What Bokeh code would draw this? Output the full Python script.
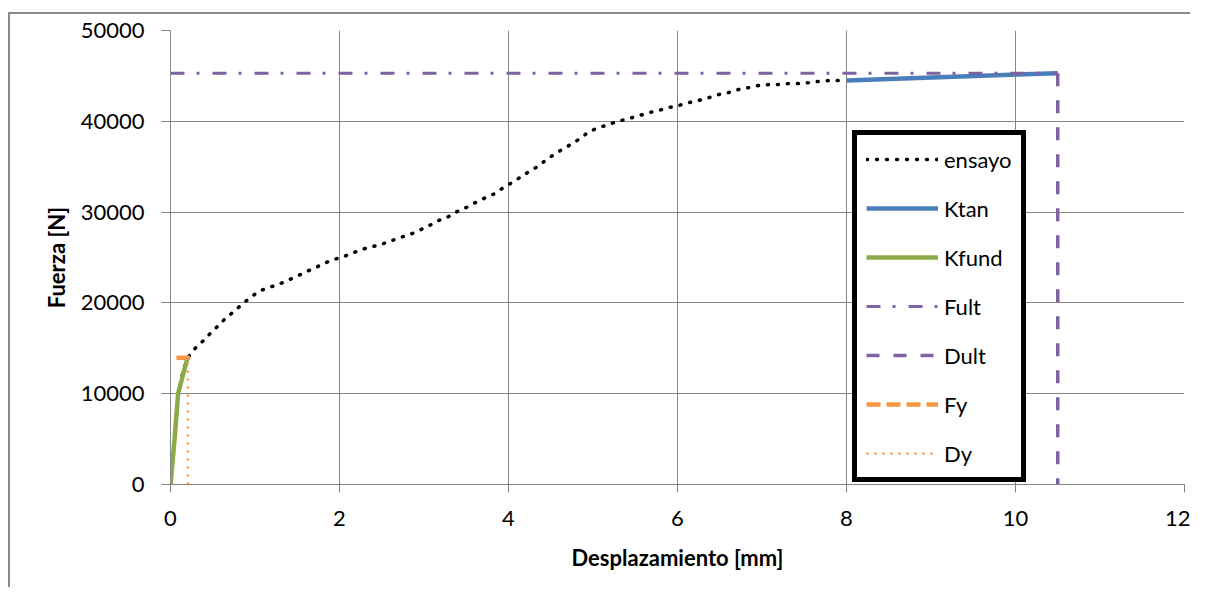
from bokeh.plotting import figure
from bokeh.models import Range1d, FixedTicker, Legend, LegendItem
from bokeh.embed import file_html
from bokeh.resources import INLINE

# ---- data ----
ensayo_x = [0.0, 0.05, 0.09, 0.15, 0.20, 0.24, 0.32, 0.41, 0.49, 0.58, 0.66, 0.76, 0.85,
            0.95, 1.04, 1.16, 1.27, 1.38, 1.49, 1.61, 1.72, 1.83, 1.94, 2.05, 2.17, 2.27,
            2.39, 2.51, 2.63, 2.75, 2.85, 2.97, 3.08, 3.18, 3.29, 3.40, 3.50, 3.62, 3.73,
            3.83, 3.94, 4.05, 4.15, 4.25, 4.36, 4.45, 4.56, 4.65, 4.76, 4.86, 4.96, 5.07,
            5.18, 5.30, 5.42, 5.54, 5.66, 5.78, 5.89, 6.00, 6.13, 6.25, 6.37, 6.49, 6.60,
            6.72, 6.84, 6.96, 7.08, 7.20, 7.31, 7.43, 7.55, 7.67, 7.80, 7.92, 8.00]
ensayo_y = [0, 5000, 10000, 12500, 13900, 14400, 15300, 16000, 16850, 17600, 18400, 19100, 19900,
            20600, 21250, 21700, 22000, 22450, 22900, 23450, 23900, 24400, 24800, 25100, 25550, 25900,
            26200, 26500, 26900, 27300, 27600, 28100, 28600, 29100, 29500, 30100, 30500, 31100, 31600,
            32000, 32700, 33300, 33900, 34500, 35100, 35800, 36450, 37000, 37550, 38200, 38900, 39300,
            39650, 40000, 40300, 40600, 40950, 41200, 41500, 41700, 42050, 42300, 42600, 42950, 43150,
            43500, 43700, 43950, 44050, 44050, 44150, 44150, 44250, 44400, 44500, 44500, 44500]

ktan_x = [8.0, 10.5]
ktan_y = [44500, 45300]

kfund_x = [0.0, 0.05, 0.09, 0.20]
kfund_y = [0, 5200, 10000, 13900]

fult_x = [0.0, 10.5]
fult_y = [45300, 45300]

dult_x = [10.5, 10.5]
dult_y = [45300, 0]

fy_x = [0.07, 0.23]
fy_y = [13950, 13950]

dy_x = [0.205, 0.205]
dy_y = [0, 13500]

x_ticks = [0, 2, 4, 6, 8, 10, 12]
y_ticks = [0, 10000, 20000, 30000, 40000, 50000]

FONT = "Lato"
GRID = "#868686"

p = figure(width=1182, height=575, output_backend="svg", toolbar_location=None,
           x_range=Range1d(0, 12), y_range=Range1d(0, 50000),
           min_border_left=160, min_border_right=8, min_border_top=16, min_border_bottom=105)
p.styles = {"border-left": "2px solid #898989", "border-top": "2px solid #898989",
            "margin-top": "12px", "margin-left": "8px"}
p.outline_line_color = None
p.background_fill_color = "white"

for ax in (p.xaxis[0], p.yaxis[0]):
    ax.axis_line_color = GRID
    ax.major_tick_line_color = GRID
    ax.minor_tick_line_color = None
    ax.major_tick_in = 0
    ax.major_label_text_font = FONT
    ax.major_label_text_font_size = "22px"
    ax.major_label_text_color = "#000000"
    ax.axis_label_text_font = FONT
    ax.axis_label_text_font_size = "22px"
    ax.axis_label_text_font_style = "bold"
    ax.axis_label_text_color = "#000000"

p.xaxis.ticker = FixedTicker(ticks=x_ticks)
p.yaxis.ticker = FixedTicker(ticks=y_ticks)
p.xaxis.major_tick_out = 8
p.yaxis.major_tick_out = 9
p.xaxis.major_label_standoff = 18
p.yaxis.major_label_standoff = 17
p.xaxis.axis_label_standoff = 15
p.yaxis.axis_label_standoff = 8
p.xaxis.axis_label = "Desplazamiento [mm]"
p.yaxis.axis_label = "Fuerza [N]"

p.xgrid.ticker = FixedTicker(ticks=x_ticks)
p.ygrid.ticker = FixedTicker(ticks=y_ticks)
p.xgrid.grid_line_color = GRID
p.ygrid.grid_line_color = GRID
p.xgrid.grid_line_width = 1
p.ygrid.grid_line_width = 1

r_ens = p.line(ensayo_x, ensayo_y, line_color="black", line_width=3.5, line_dash="1 9",
               line_cap="round")
r_ktan = p.line(ktan_x, ktan_y, line_color="#4A7EBB", line_width=4.5)
r_kfund = p.line(kfund_x, kfund_y, line_color="#8BAA4B", line_width=4.5)
r_fult = p.line(fult_x, fult_y, line_color="#7F62A1", line_width=3, line_dash="14 12 3 13")
r_dult = p.line(dult_x, dult_y, line_color="#7F62A1", line_width=3.5, line_dash="13 14")
r_fy = p.line(fy_x, fy_y, line_color="#F79646", line_width=4.5, line_dash="14 6")
r_dy = p.line(dy_x, dy_y, line_color="#F79646", line_width=2.5, line_dash="2 6")

legend = Legend(items=[
    LegendItem(label="ensayo", renderers=[r_ens]),
    LegendItem(label="Ktan", renderers=[r_ktan]),
    LegendItem(label="Kfund", renderers=[r_kfund]),
    LegendItem(label="Fult", renderers=[r_fult]),
    LegendItem(label="Dult", renderers=[r_dult]),
    LegendItem(label="Fy", renderers=[r_fy]),
    LegendItem(label="Dy", renderers=[r_dy]),
], location=(682, 2))
legend.border_line_color = "black"
legend.border_line_alpha = 1
legend.border_line_width = 5
legend.background_fill_color = "white"
legend.background_fill_alpha = 1
legend.padding = 9
legend.margin = 0
legend.spacing = 19
legend.label_height = 30
legend.glyph_height = 30
legend.glyph_width = 72
legend.label_standoff = 6
legend.label_text_font = FONT
legend.label_text_font_size = "22px"
legend.label_text_color = "#000000"
p.add_layout(legend, "center")

open("out.html", "w").write(file_html(p, INLINE))
